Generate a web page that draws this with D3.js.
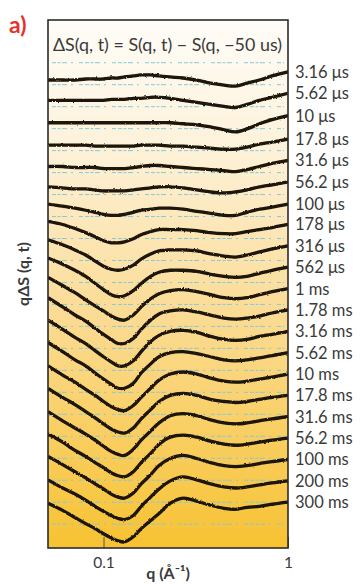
<!DOCTYPE html>
<html>
<head>
<meta charset="utf-8">
<script src="https://cdn.jsdelivr.net/npm/d3@7"></script>
<style>
	html, body { margin: 0; padding: 0; width: 100%; height: 100%; background: #fff; overflow: hidden; }
	#chart { width: 100%; height: 100%; }
	svg { display: block; }
</style>
</head>
<body>
<div id="chart"></div>
<script>
// q grid (Å^-1) shared by every trace
const qValues = [0.05, 0.06, 0.07, 0.08, 0.09, 0.1, 0.11, 0.12, 0.13, 0.145, 0.16, 0.18, 0.2, 0.23, 0.27, 0.32, 0.38, 0.45, 0.52, 0.6, 0.7, 0.82, 1.0];

const delayLabels = ["3.16 μs", "5.62 μs", "10 μs", "17.8 μs", "31.6 μs", "56.2 μs", "100 μs", "178 μs", "316 μs", "562 μs", "1 ms", "1.78 ms", "3.16 ms", "5.62 ms", "10 ms", "17.8 ms", "31.6 ms", "56.2 ms", "100 ms", "200 ms", "300 ms"];

// qΔS (arb. units), one row per delay, before vertical offset
const traces = [
	[1, 1, 1, 2, 2, 2, 3, 3, 4, 5, 6, 6, 5, 4, 3, 1, -2, -4, -5, -2, 1, 5, 9],
	[2, 2, 2, 2, 2, 2, 3, 3, 3, 4, 4, 5, 5, 4, 2, 0, -2, -4, -5, -2, 2, 5, 9],
	[1, 1, 1, 1, 1, 1, 1, 1, 1, 1, 1, 1, 1, 1, 0, -1, -3, -6, -8, -5, 0, 4, 8],
	[0, 0, 0, 0, -1, -1, -1, -1, -1, -1, 0, 0, 0, -1, -1, -2, -3, -4, -4, -2, 1, 3, 6],
	[0, 0, -1, -1, -1, -2, -2, -2, -2, -1, 0, 1, 1, 0, -1, -2, -3, -4, -5, -3, 0, 3, 6],
	[1, 0, -1, -1, -2, -3, -3, -3, -3, -2, -1, 0, 1, 1, 0, -2, -4, -5, -4, -2, 1, 3, 6],
	[5, 3, 1, -1, -3, -5, -6, -6, -5, -3, -1, 0, 1, 1, 0, -2, -4, -6, -6, -3, 0, 2, 5],
	[9, 6, 2, -2, -6, -10, -12, -12, -11, -8, -4, -1, 1, 1, 1, 0, -2, -3, -3, -1, 1, 3, 6],
	[12, 7, 2, -3, -9, -14, -17, -18, -17, -13, -7, -2, 1, 2, 2, 1, -2, -4, -5, -3, 0, 3, 6],
	[15, 9, 3, -3, -10, -16, -21, -23, -22, -17, -10, -3, 1, 3, 3, 2, -1, -3, -4, -3, 0, 3, 6],
	[17, 9, 2, -5, -11, -16, -21, -24, -25, -20, -12, -4, 1, 4, 5, 3, 0, -3, -4, -3, 0, 3, 6],
	[18, 9, 1, -5, -12, -18, -23, -27, -27, -22, -13, -4, 2, 5, 6, 4, 1, -2, -3, -2, 0, 3, 6],
	[17, 8, 0, -6, -13, -19, -24, -28, -28, -23, -14, -4, 2, 6, 7, 5, 1, -2, -3, -2, 1, 3, 6],
	[16, 7, -1, -7, -14, -20, -25, -29, -29, -24, -14, -5, 2, 6, 7, 5, 2, -1, -2, -1, 1, 3, 6],
	[14, 5, -2, -9, -15, -21, -26, -29, -30, -25, -17, -8, 0, 6, 8, 6, 2, -1, -2, -1, 1, 3, 6],
	[13, 4, -3, -10, -16, -22, -27, -30, -31, -26, -17, -8, 0, 6, 8, 6, 2, 0, -1, 0, 2, 4, 6],
	[11, 2, -5, -11, -17, -23, -28, -31, -32, -26, -17, -8, 0, 7, 9, 7, 3, 0, -1, 0, 2, 4, 6],
	[10, 2, -6, -12, -18, -23, -28, -31, -32, -27, -18, -9, 0, 7, 9, 7, 3, 0, -1, 0, 2, 4, 6],
	[9, 1, -6, -12, -18, -23, -28, -31, -32, -27, -18, -9, 0, 7, 10, 7, 3, 0, -1, 0, 2, 4, 6],
	[7, -1, -7, -13, -19, -24, -28, -31, -32, -28, -19, -10, -2, 6, 10, 7, 3, 0, -1, 0, 2, 4, 6],
	[5, -2, -9, -15, -20, -25, -29, -32, -33, -28, -20, -12, -5, 5, 10, 7, 3, 0, -1, 1, 2, 4, 6],
];

const traceOffset = 21; // vertical shift between successive delays
const referenceCount = 22; // dotted guide lines
const referenceStep = 21.6;
const xTickValues = [0.1, 1];

const width = 362;
const height = 584;
const margin = { top: 20, right: 74, bottom: 36, left: 48 };
const innerWidth = width - margin.left - margin.right;
const innerHeight = height - margin.top - margin.bottom;
const font = "Lato, 'Open Sans', sans-serif";
const ink = "#3a3a3a";

const x = d3.scaleLog().domain([0.05, 1]).range([0, innerWidth]);
const y = d3.scaleLinear().domain([-459, 60]).range([innerHeight, 0]);

const svg = d3
	.select("#chart")
	.append("svg")
	.attr("width", "100%")
	.attr("height", "100%")
	.attr("viewBox", `0 0 ${width} ${height}`)
	.attr("preserveAspectRatio", "xMidYMid meet");

const defs = svg.append("defs");
const grad = defs
	.append("linearGradient")
	.attr("id", "bg")
	.attr("x1", 0)
	.attr("y1", 0)
	.attr("x2", 0)
	.attr("y2", 1);
[
	[0, "#fffdf9"],
	[0.25, "#fdf1d8"],
	[0.55, "#fbdc96"],
	[1, "#f7c232"],
].forEach(([o, c]) => grad.append("stop").attr("offset", o).attr("stop-color", c));

// roughen the strokes a little, like the noisy measured traces
const rough = defs
	.append("filter")
	.attr("id", "rough")
	.attr("x", "-2%")
	.attr("y", "-10%")
	.attr("width", "104%")
	.attr("height", "120%");
rough
	.append("feTurbulence")
	.attr("type", "fractalNoise")
	.attr("baseFrequency", 0.6)
	.attr("numOctaves", 2)
	.attr("seed", 3)
	.attr("result", "noise");
rough
	.append("feDisplacementMap")
	.attr("in", "SourceGraphic")
	.attr("in2", "noise")
	.attr("scale", 2.2)
	.attr("xChannelSelector", "R")
	.attr("yChannelSelector", "G");

defs
	.append("clipPath")
	.attr("id", "plot-clip")
	.append("rect")
	.attr("width", innerWidth)
	.attr("height", innerHeight);

const root = svg
	.append("g")
	.attr("transform", `translate(${margin.left}, ${margin.top})`);

root
	.append("rect")
	.attr("width", innerWidth)
	.attr("height", innerHeight)
	.attr("fill", "url(#bg)");

const plot = root.append("g").attr("clip-path", "url(#plot-clip)");

// dotted guide lines
plot
	.selectAll(".guide")
	.data(d3.range(referenceCount))
	.join("line")
	.attr("class", "guide")
	.attr("x1", 4)
	.attr("x2", innerWidth - 4)
	.attr("y1", (i) => y(18 - i * referenceStep))
	.attr("y2", (i) => y(18 - i * referenceStep))
	.attr("stroke", "#86c9da")
	.attr("stroke-width", 1)
	.attr("stroke-dasharray", "4 1.5 3 1.5 5 4 2 6 4 2");

const line = d3
	.line()
	.x((d) => x(d[0]))
	.y((d) => y(d[1]))
	.curve(d3.curveCatmullRom.alpha(0.5));

plot
	.append("g")
	.attr("filter", "url(#rough)")
	.selectAll(".trace")
	.data(traces)
	.join("path")
	.attr("class", "trace")
	.attr("fill", "none")
	.attr("stroke", "#1b1207")
	.attr("stroke-width", 3.3)
	.attr("stroke-linejoin", "round")
	.attr("d", (vals, k) => line(vals.map((v, j) => [qValues[j], v - k * traceOffset])));

// x axis: inner tick marks only
root
	.append("g")
	.attr("transform", `translate(0, ${innerHeight})`)
	.call(d3.axisBottom(x).tickValues(xTickValues).tickSizeInner(-11).tickSizeOuter(0).tickFormat(d3.format("")))
	.call((axis) => axis.select(".domain").remove())
	.call((axis) => axis.selectAll("line").attr("stroke", "#555").attr("stroke-width", 1))
	.call((axis) =>
		axis
			.selectAll("text")
			.attr("y", 9)
			.attr("fill", ink)
			.attr("font-family", font)
			.attr("font-size", 15.5),
	);

root
	.append("rect")
	.attr("width", innerWidth)
	.attr("height", innerHeight)
	.attr("fill", "none")
	.attr("stroke", "#2b2b2b")
	.attr("stroke-width", 1.6);

// delay labels at the right end of every trace
root
	.selectAll(".delay")
	.data(delayLabels)
	.join("text")
	.attr("class", "delay")
	.attr("x", innerWidth + 7)
	.attr("y", (d, k) => y(traces[k][traces[k].length - 1] - k * traceOffset) + 6)
	.attr("fill", ink)
	.attr("font-family", font)
	.attr("font-size", 16.5)
	.text((d) => d);

root
	.append("text")
	.attr("x", 5)
	.attr("y", 31)
	.attr("fill", ink)
	.attr("font-family", font)
	.attr("font-size", 17)
	.attr("textLength", 229)
	.attr("lengthAdjust", "spacingAndGlyphs")
	.text("ΔS(q, t) = S(q, t) − S(q, −50 us)");

svg
	.append("text")
	.attr("x", margin.left + innerWidth / 2)
	.attr("y", 579)
	.attr("text-anchor", "middle")
	.attr("fill", ink)
	.attr("font-family", font)
	.attr("font-weight", 700)
	.attr("font-size", 16)
	.text("q (Å⁻¹)");

svg
	.append("text")
	.attr("transform", `translate(29, 274) rotate(-90)`)
	.attr("text-anchor", "middle")
	.attr("fill", ink)
	.attr("font-family", font)
	.attr("font-weight", 700)
	.attr("font-size", 16)
	.text("qΔS (q, t)");

svg
	.append("text")
	.attr("x", 9)
	.attr("y", 33)
	.attr("fill", "#e5322d")
	.attr("font-family", font)
	.attr("font-weight", 700)
	.attr("font-size", 23)
	.text("a)");
</script>
</body>
</html>
